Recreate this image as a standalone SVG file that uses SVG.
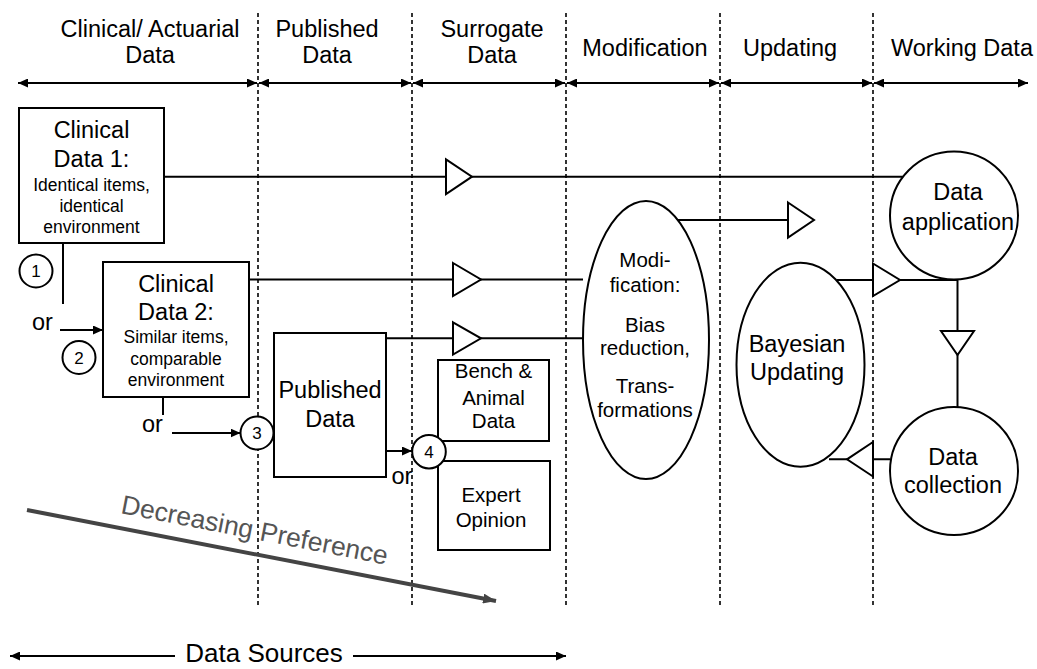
<svg xmlns="http://www.w3.org/2000/svg" width="1037" height="669" viewBox="0 0 1037 669">
<style>
text{font-family:"Liberation Sans",Arial,sans-serif;fill:#000}
.big{font-size:23.5px;text-anchor:middle}
.sm{font-size:17.5px;text-anchor:middle}
.mid{font-size:20.5px;text-anchor:middle}
.num{font-size:17px;text-anchor:middle}
.or{font-size:23.5px}
.ln{stroke:#000;stroke-width:2;fill:none}
.box{stroke:#000;stroke-width:2;fill:#fff}
.tri{stroke:#000;stroke-width:2;fill:#fff;stroke-linejoin:miter}
.dash{stroke:#000;stroke-width:1.6;stroke-dasharray:4 3;fill:none}
</style>
<defs>
<marker id="ah" viewBox="0 0 10 9" refX="10" refY="4.5" markerWidth="10" markerHeight="9" markerUnits="userSpaceOnUse" orient="auto-start-reverse"><path d="M0,0 L10,4.5 L0,9 z" fill="#000"/></marker>
<marker id="ahg" viewBox="0 0 13 10" refX="13" refY="5" markerWidth="13" markerHeight="10" markerUnits="userSpaceOnUse" orient="auto"><path d="M0,0 L13,5 L0,10 z" fill="#444"/></marker>
</defs>

<g id="columns">
<line class="dash" x1="258" y1="13" x2="258" y2="606"/>
<line class="dash" x1="412" y1="13" x2="412" y2="606"/>
<line class="dash" x1="566" y1="13" x2="566" y2="606"/>
<line class="dash" x1="720" y1="13" x2="720" y2="606"/>
<line class="dash" x1="873" y1="13" x2="873" y2="606"/>
</g>

<g id="header">
<text class="big" x="150" y="37">Clinical/ Actuarial</text>
<text class="big" x="150" y="63">Data</text>
<text class="big" x="327" y="37">Published</text>
<text class="big" x="327" y="63">Data</text>
<text class="big" x="492" y="37">Surrogate</text>
<text class="big" x="492" y="63">Data</text>
<text class="big" x="645" y="56">Modification</text>
<text class="big" x="790" y="56">Updating</text>
<text class="big" x="962" y="56">Working Data</text>
<g class="ln" marker-start="url(#ah)" marker-end="url(#ah)">
<line x1="18" y1="83" x2="257" y2="83"/>
<line x1="259" y1="83" x2="411" y2="83"/>
<line x1="413" y1="83" x2="565" y2="83"/>
<line x1="567" y1="83" x2="719" y2="83"/>
<line x1="721" y1="83" x2="872" y2="83"/>
<line x1="874" y1="83" x2="1028" y2="83"/>
</g>
</g>

<g id="connectors">
<line class="ln" x1="164" y1="176.7" x2="903" y2="176.7"/>
<polygon class="tri" points="446,159.3 472,176.7 446,194.1"/>
<line class="ln" x1="249" y1="279.5" x2="583" y2="279.5"/>
<polygon class="tri" points="453,263 481,279.5 453,296"/>
<line class="ln" x1="386" y1="338.3" x2="583" y2="338.3"/>
<polygon class="tri" points="453,322.3 481,338.3 453,354.6"/>
<line class="ln" x1="677" y1="220" x2="788" y2="220"/>
<polygon class="tri" points="788,202.5 814,220 788,237.5"/>
<line class="ln" x1="837" y1="280" x2="958" y2="280"/>
<polygon class="tri" points="873,263.5 900,280 873,296"/>
<line class="ln" x1="957.5" y1="280" x2="957.5" y2="407"/>
<polygon class="tri" points="941,331 974,331 957.5,355"/>
<line class="ln" x1="890" y1="459.3" x2="829" y2="459.3"/>
<polygon class="tri" points="873,442 847,459.3 873,476.5"/>
<line class="ln" x1="63" y1="243" x2="63" y2="304"/>
<line class="ln" x1="60" y1="330" x2="103" y2="330" marker-end="url(#ah)"/>
<line class="ln" x1="163" y1="397" x2="163" y2="415"/>
<line class="ln" x1="172" y1="433" x2="240.5" y2="433" marker-end="url(#ah)"/>
<line class="ln" x1="386" y1="451" x2="412" y2="451" marker-end="url(#ah)"/>
<line x1="27" y1="510" x2="496" y2="601" stroke="#444" stroke-width="4" marker-end="url(#ahg)"/>
</g>

<g id="labels">
<text class="or" x="32" y="330">or</text>
<text class="or" x="142" y="432">or</text>
<text class="or" x="391.5" y="484">or</text>
<text x="120" y="513" transform="rotate(11 120 513)" style="font-size:26.5px;fill:#555">Decreasing Preference</text>
</g>

<g id="clinical1">
<rect class="box" x="19" y="108" width="145" height="135"/>
<text class="big" x="91.5" y="138">Clinical</text>
<text class="big" x="91.5" y="167">Data 1:</text>
<text class="sm" x="91.5" y="190.7">Identical items,</text>
<text class="sm" x="91.5" y="211.7">identical</text>
<text class="sm" x="91.5" y="233">environment</text>
</g>
<g id="c1"><circle class="box" cx="36" cy="271" r="16.5"/><text class="num" x="36" y="277">1</text></g>

<g id="clinical2">
<rect class="box" x="103" y="262" width="146" height="135"/>
<text class="big" x="176" y="291.7">Clinical</text>
<text class="big" x="176" y="320">Data 2:</text>
<text class="sm" x="176" y="343">Similar items,</text>
<text class="sm" x="176" y="365">comparable</text>
<text class="sm" x="176" y="386">environment</text>
</g>
<g id="c2"><circle class="box" cx="79" cy="357.5" r="16.5"/><text class="num" x="79" y="363.5">2</text></g>

<g id="published">
<rect class="box" x="274" y="333" width="112" height="144"/>
<text class="big" x="330" y="398">Published</text>
<text class="big" x="330" y="427">Data</text>
</g>
<g id="c3"><circle class="box" cx="257" cy="433" r="16.5"/><text class="num" x="257" y="439">3</text></g>

<g id="bench">
<rect class="box" x="438" y="360" width="111" height="81"/>
<text class="mid" x="493.5" y="378.3">Bench &amp;</text>
<text class="mid" x="493.5" y="405">Animal</text>
<text class="mid" x="493.5" y="428.3">Data</text>
</g>
<g id="expert">
<rect class="box" x="438" y="461" width="112" height="89"/>
<text class="mid" x="491" y="501.7">Expert</text>
<text class="mid" x="491" y="526.7">Opinion</text>
</g>
<g id="c4"><circle class="box" cx="429" cy="451.7" r="16.8"/><text class="num" x="429" y="458">4</text></g>

<g id="modification">
<ellipse class="box" cx="646" cy="340" rx="63" ry="139"/>
<text class="mid" x="645" y="266.7">Modi-</text>
<text class="mid" x="645" y="291.7">fication:</text>
<text class="mid" x="645" y="331.7">Bias</text>
<text class="mid" x="645" y="355">reduction,</text>
<text class="mid" x="645" y="393.3">Trans-</text>
<text class="mid" x="645" y="416.7">formations</text>
</g>

<g id="bayesian">
<ellipse class="box" cx="800.5" cy="364.7" rx="64" ry="102"/>
<text class="big" x="797" y="351.7">Bayesian</text>
<text class="big" x="797" y="380">Updating</text>
</g>

<g id="application">
<circle class="box" cx="954" cy="215.5" r="64"/>
<text class="big" x="958" y="200">Data</text>
<text class="big" x="958" y="230">application</text>
</g>

<g id="collection">
<circle class="box" cx="954" cy="471" r="64"/>
<text class="big" x="953" y="465">Data</text>
<text class="big" x="953" y="493.3">collection</text>
</g>

<g id="sources">
<line class="ln" x1="10" y1="656" x2="175" y2="656" marker-start="url(#ah)"/>
<line class="ln" x1="353" y1="656" x2="566" y2="656" marker-end="url(#ah)"/>
<text x="264" y="662" style="font-size:26px;text-anchor:middle">Data Sources</text>
</g>
</svg>
